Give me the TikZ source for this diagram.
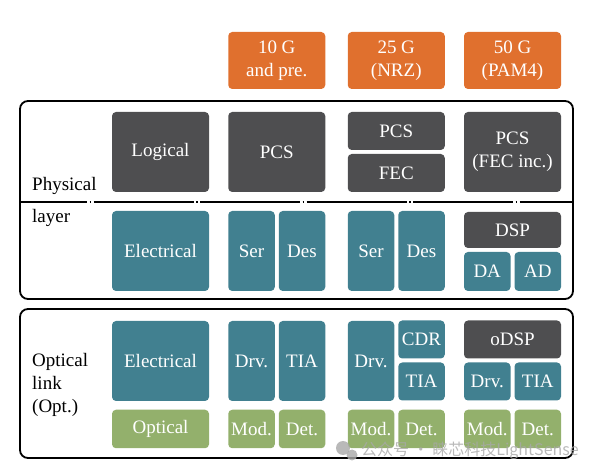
\documentclass[tikz,border=0pt]{standalone}
\usepackage{fontspec}
\setmainfont{Liberation Serif}
\newfontfamily\cjkfont{Noto Sans CJK SC}

\definecolor{boxgray}{HTML}{4E4E50}
\definecolor{boxteal}{HTML}{418090}
\definecolor{boxgreen}{HTML}{93B06C}
\definecolor{boxorange}{HTML}{E0702E}
\definecolor{markgray}{HTML}{A8A8A8}

\tikzset{
  blk/.style={rounded corners=4pt, text=white, inner sep=0pt, align=center,
    font=\fontsize{19}{23}\selectfont},
  full/.style={minimum width=97pt},
  half/.style={minimum width=46.5pt},
  tall/.style={minimum height=80pt},
  short/.style={minimum height=38pt},
  dk/.style={blk, fill=boxgray},
  tl/.style={blk, fill=boxteal},
  gr/.style={blk, fill=boxgreen, minimum height=38.5pt},
  og/.style={blk, fill=boxorange, full, minimum height=57pt},
  frame/.style={line width=1.8pt, rounded corners=8pt},
  sepline/.style={line width=1.1pt, dash pattern=on 100pt off 2.5pt on 1.5pt off 2.5pt, dash phase=33pt},
  lbl/.style={font=\fontsize{19}{23}\selectfont, inner sep=0pt}
}

\begin{document}
\begin{tikzpicture}[x=1pt,y=-1pt]
      \useasboundingbox (0,0) rectangle (598,473) ;
      % rate headers
      \node[og] (g10) at (276.75,60.5) {10 G\\and pre.} ;
      \node[og] (g25) at (396.25,60.5) {25 G\\(NRZ)} ;
      \node[og] (g50) at (512.5,60.5) {50 G\\(PAM4)} ;
      % physical layer
      \draw[frame] (20,101) rectangle (573,299) ;
      \draw[sepline] (20,202)--(573,202) ;
      \node[lbl, anchor=base west] (phys) at (32,191) {Physical} ;
      \node[lbl, anchor=base west] (layer) at (32,223) {layer} ;
      \node[dk, full, tall] (logic) at (160.5,152) {Logical} ;
      \node[dk, full, tall] (pcsa) at (276.75,152) {PCS} ;
      \node[dk, full, short] (pcsb) at (396.25,131) {PCS} ;
      \node[dk, full, short] (fec) at (396.25,173) {FEC} ;
      \node[dk, full, tall] (pcsc) at (512.5,152) {PCS\\(FEC inc.)} ;
      \node[tl, full, tall] (elec) at (160.5,251) {Electrical} ;
      \node[tl, half, tall] (sera) at (251.5,251) {Ser} ;
      \node[tl, half, tall] (desa) at (302,251) {Des} ;
      \node[tl, half, tall] (serb) at (371,251) {Ser} ;
      \node[tl, half, tall] (desb) at (421.5,251) {Des} ;
      \node[dk, full, minimum height=36pt] (dsp) at (512.5,230) {DSP} ;
      \node[tl, half, minimum height=39pt] (da) at (487.25,271.5) {DA} ;
      \node[tl, half, minimum height=39pt] (ad) at (537.75,271.5) {AD} ;
      % optical link
      \draw[frame] (20,309) rectangle (573,458) ;
      \node[lbl, anchor=west, align=left] (optlink) at (32,385) {Optical\\link\\(Opt.)} ;
      \node[tl, full, tall] (oelec) at (160.5,361) {Electrical} ;
      \node[tl, half, tall] (drva) at (251.5,361) {Drv.} ;
      \node[tl, half, tall] (tiaa) at (302,361) {TIA} ;
      \node[tl, half, tall] (drvb) at (371,361) {Drv.} ;
      \node[tl, half, short] (cdr) at (421.5,339.5) {CDR} ;
      \node[tl, half, short] (tiab) at (421.5,381.5) {TIA} ;
      \node[dk, full, short] (odsp) at (512.5,339.5) {oDSP} ;
      \node[tl, half, short] (drvc) at (487.25,381.5) {Drv.} ;
      \node[tl, half, short] (tiac) at (537.75,381.5) {TIA} ;
      \node[gr, full] (optic) at (160.5,429) {Optical} ;
      \node[gr, half] (moda) at (251.5,429) {Mod.} ;
      \node[gr, half] (deta) at (302,429) {Det.} ;
      \node[gr, half] (modb) at (371,429) {Mod.} ;
      \node[gr, half] (detb) at (421.5,429) {Det.} ;
      \node[gr, half] (modc) at (487.25,429) {Mod.} ;
      \node[gr, half] (detc) at (537.75,429) {Det.} ;
      % watermark
      \begin{scope}[opacity=0.8]
      \fill[markgray] (343,448) circle (7) ;
      \fill[markgray] (352,455) circle (5.5) ;
      \node[font=\cjkfont\fontsize{16}{16}\selectfont, text=markgray, anchor=west, inner sep=0pt] %
      (mark) at (361,451) {公众号 · 睐芯科技LightSense} ;
      \end{scope}
    \end{tikzpicture}
\end{document}
